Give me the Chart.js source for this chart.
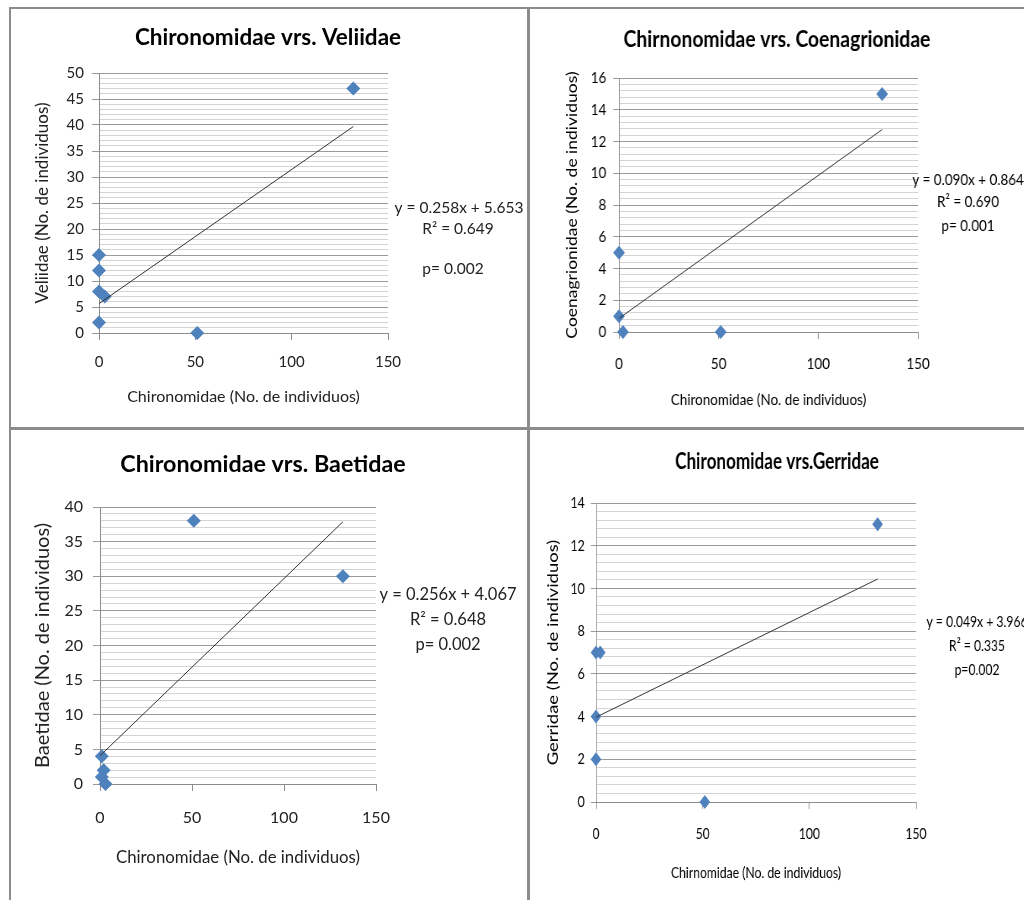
<!DOCTYPE html>
<html>
<head>
<meta charset="utf-8">
<script src="https://cdn.jsdelivr.net/npm/chart.js@4"></script>
<style>
  html, body { margin: 0; padding: 0; background: #fff; }
  body { width: 1024px; height: 900px; position: relative; overflow: hidden; }
  .frame { position: absolute; border: 2px solid #8c8c8c; box-sizing: border-box; }
  .wrap { position: absolute; transform-origin: 0 0; }
  .wrap canvas { display: block; }
</style>
</head>
<body>
<div class="frame" style="left:9px;top:7px;width:521px;height:423px"></div>
<div class="frame" style="left:527px;top:7px;width:521px;height:423px"></div>
<div class="frame" style="left:9px;top:427px;width:521px;height:500px"></div>
<div class="frame" style="left:527px;top:427px;width:521px;height:500px"></div>
<div class="wrap" id="w1" style="left:11px;top:9px"><canvas id="c1"></canvas></div>
<div class="wrap" id="w2" style="left:529px;top:9px"><canvas id="c2"></canvas></div>
<div class="wrap" id="w3" style="left:11px;top:429px"><canvas id="c3"></canvas></div>
<div class="wrap" id="w4" style="left:529px;top:429px"><canvas id="c4"></canvas></div>
<script>
// x axis ticks shared by all four plots
const xTicks = [0, 50, 100, 150];

// Chironomidae vs Veliidae
const veliX = [0, 0, 0, 3, 0, 51, 132];
const veliY = [15, 12, 8, 7, 2, 0, 47];
const veliTrendX = [0, 132];
const veliTrendY = [5.65, 39.7];

// Chironomidae vs Coenagrionidae
const coenX = [0, 0, 2, 51, 132];
const coenY = [5, 1, 0, 0, 15];
const coenTrendX = [0, 132];
const coenTrendY = [0.86, 12.75];

// Chironomidae vs Baetidae
const baetX = [51, 132, 1, 2, 1, 3];
const baetY = [38, 30, 4, 2, 1, 0];
const baetTrendX = [0, 132];
const baetTrendY = [4.07, 37.86];

// Chironomidae vs Gerridae
const gerrX = [0, 2, 0, 0, 51, 132];
const gerrY = [7, 7, 4, 2, 0, 13];
const gerrTrendX = [0, 132];
const gerrTrendY = [3.97, 10.44];

const LATO = 'Lato, "Open Sans", sans-serif';
const BLUE = '#4F81BD';

// draws chart title and the regression text
const panelText = {
  id: 'panelText',
  afterDraw(chart, args, o) {
    const ctx = chart.ctx;
    ctx.save();
    ctx.fillStyle = '#000';
    ctx.textAlign = 'center';
    ctx.textBaseline = 'middle';
    ctx.font = o.titleFont;
    ctx.fillText(o.title, o.titleX, o.titleY);
    ctx.font = o.eqFont;
    ctx.fillStyle = o.color;
    o.lines.forEach(l => ctx.fillText(l[0], l[1], l[2]));
    ctx.restore();
  }
};

function pairs(xs, ys) {
  return xs.map((x, i) => ({x: x, y: ys[i]}));
}

function isMajor(v, step) {
  return Math.abs(v / step - Math.round(v / step)) < 1e-6;
}

// p.k squeezes the whole panel sideways (the two right-hand plots are narrower)
function panel(n, p) {
  const k = p.k;
  const canvas = document.getElementById('c' + n);
  const W = Math.round(p.w / k), H = p.h;
  canvas.width = W;
  canvas.height = H;
  canvas.style.width = W + 'px';
  canvas.style.height = H + 'px';
  document.getElementById('w' + n).style.transform = 'scaleX(' + k + ')';

  const left = p.area[0] / k, top = p.area[1], right = p.area[2] / k, bottom = p.area[3];
  const padLeft = p.yTitleX / k - p.yTitleFont.size * 0.6;
  const padBottom = H - (p.xTitleY + p.xTitleFont.size * 0.6);
  const txt = k < 1 ? '#000' : '#222';

  new Chart(canvas, {
    type: 'scatter',
    plugins: [panelText],
    data: {
      datasets: [
        {
          data: pairs(p.x, p.y),
          pointStyle: 'rectRot',
          pointRadius: 7,
          pointBackgroundColor: BLUE,
          pointBorderColor: BLUE,
          pointBorderWidth: 0,
          clip: false,
          order: 1
        },
        {
          data: pairs(p.tx, p.ty),
          showLine: true,
          pointRadius: 0,
          borderColor: '#333',
          borderWidth: 1,
          clip: false,
          order: 0
        }
      ]
    },
    options: {
      responsive: false,
      animation: false,
      events: [],
      layout: {
        padding: {left: padLeft, top: top, right: W - right, bottom: padBottom}
      },
      plugins: {
        legend: {display: false},
        tooltip: {enabled: false},
        panelText: {
          title: p.title, titleX: p.titleX / k, titleY: p.titleY, titleFont: p.titleFont,
          eqFont: p.eqFont, color: txt, lines: p.lines.map(l => [l[0], l[1] / k, l[2]])
        }
      },
      scales: {
        x: {
          type: 'linear',
          min: 0, max: 150,
          afterBuildTicks: s => { s.ticks = xTicks.map(v => ({value: v})); },
          afterFit: s => { s.height = H - padBottom - bottom; },
          border: {color: '#8c8c8c'},
          grid: {drawOnChartArea: false, color: '#8c8c8c', tickLength: 7},
          ticks: {color: txt, font: p.tickFont, padding: p.xTickPad, maxRotation: 0},
          title: {display: true, text: p.xTitle, color: txt, font: p.xTitleFont, padding: 0}
        },
        y: {
          type: 'linear',
          min: 0, max: p.yMax,
          afterFit: s => { s.width = left - padLeft; },
          ticks: {
            stepSize: p.minor,
            autoSkip: false,
            color: txt,
            font: p.tickFont,
            padding: p.yTickPad,
            callback: v => (isMajor(v, p.major) ? v : '')
          },
          border: {color: '#8c8c8c'},
          grid: {
            tickLength: 7,
            color: c => (isMajor(c.tick.value, p.major) ? '#9a9a9a' : '#d4d4d4'),
            tickColor: c => (isMajor(c.tick.value, p.major) ? '#9a9a9a' : 'rgba(0,0,0,0)')
          },
          title: {display: true, text: p.yTitle, color: txt, font: p.yTitleFont, padding: 0}
        }
      }
    }
  });
}

panel(1, {
  x: veliX, y: veliY, tx: veliTrendX, ty: veliTrendY,
  k: 1, w: 516, h: 418, area: [88, 64, 377, 324],
  yMax: 50, major: 5, minor: 1,
  tickFont: {family: LATO, size: 15}, xTickPad: 13, yTickPad: 8,
  xTitle: 'Chironomidae (No. de individuos)', xTitleFont: {family: LATO, size: 16}, xTitleY: 388,
  yTitle: 'Veliidae (No. de individuos)', yTitleFont: {family: LATO, size: 17}, yTitleX: 32,
  title: 'Chironomidae vrs. Veliidae', titleX: 257, titleY: 29, titleFont: 'bold 22.5px ' + LATO,
  eqFont: '15.5px ' + LATO,
  lines: [['y = 0.258x + 5.653', 448, 199], ['R\u00b2 = 0.649', 447, 220], ['p= 0.002', 442, 260]]
});

panel(2, {
  x: coenX, y: coenY, tx: coenTrendX, ty: coenTrendY,
  k: 0.84, w: 495, h: 418, area: [90, 69, 389, 323],
  yMax: 16, major: 2, minor: 0.4,
  tickFont: {family: LATO, size: 16}, xTickPad: 15, yTickPad: 8,
  xTitle: 'Chironomidae (No. de individuos)', xTitleFont: {family: LATO, size: 16}, xTitleY: 391,
  yTitle: 'Coenagrionidae (No. de individuos)', yTitleFont: {family: LATO, size: 17.5}, yTitleX: 43,
  title: 'Chirnonomidae vrs. Coenagrionidae', titleX: 248, titleY: 31, titleFont: 'bold 23px ' + LATO,
  eqFont: '16px ' + LATO,
  lines: [['y = 0.090x + 0.864', 439, 171], ['R\u00b2 = 0.690', 439, 193], ['p= 0.001', 439, 217]]
});

panel(3, {
  x: baetX, y: baetY, tx: baetTrendX, ty: baetTrendY,
  k: 1, w: 516, h: 471, area: [89, 78, 365, 355],
  yMax: 40, major: 5, minor: 1,
  tickFont: {family: LATO, size: 16}, xTickPad: 17, yTickPad: 10,
  xTitle: 'Chironomidae (No. de individuos)', xTitleFont: {family: LATO, size: 16.8}, xTitleY: 429,
  yTitle: 'Baetidae (No. de individuos)', yTitleFont: {family: LATO, size: 20}, yTitleX: 32,
  title: 'Chironomidae vrs. Baetidae', titleX: 252, titleY: 35, titleFont: 'bold 23.3px ' + LATO,
  eqFont: '16.5px ' + LATO,
  lines: [['y = 0.256x + 4.067', 437, 166], ['R\u00b2 = 0.648', 437, 191], ['p= 0.002', 437, 216]]
});

panel(4, {
  x: gerrX, y: gerrY, tx: gerrTrendX, ty: gerrTrendY,
  k: 0.76, w: 495, h: 471, area: [67, 74, 387, 373],
  yMax: 14, major: 2, minor: 0.4,
  tickFont: {family: LATO, size: 16}, xTickPad: 15, yTickPad: 8,
  xTitle: 'Chirnomidae (No. de individuos)', xTitleFont: {family: LATO, size: 16}, xTitleY: 444,
  yTitle: 'Gerridae (No. de individuos)', yTitleFont: {family: LATO, size: 18.5}, yTitleX: 24,
  title: 'Chironomidae vrs.Gerridae', titleX: 248, titleY: 33, titleFont: 'bold 22.5px ' + LATO,
  eqFont: '16px ' + LATO,
  lines: [['y = 0.049x + 3.966', 448, 193], ['R\u00b2 = 0.335', 448, 217], ['p=0.002', 448, 241]]
});
</script>
</body>
</html>
